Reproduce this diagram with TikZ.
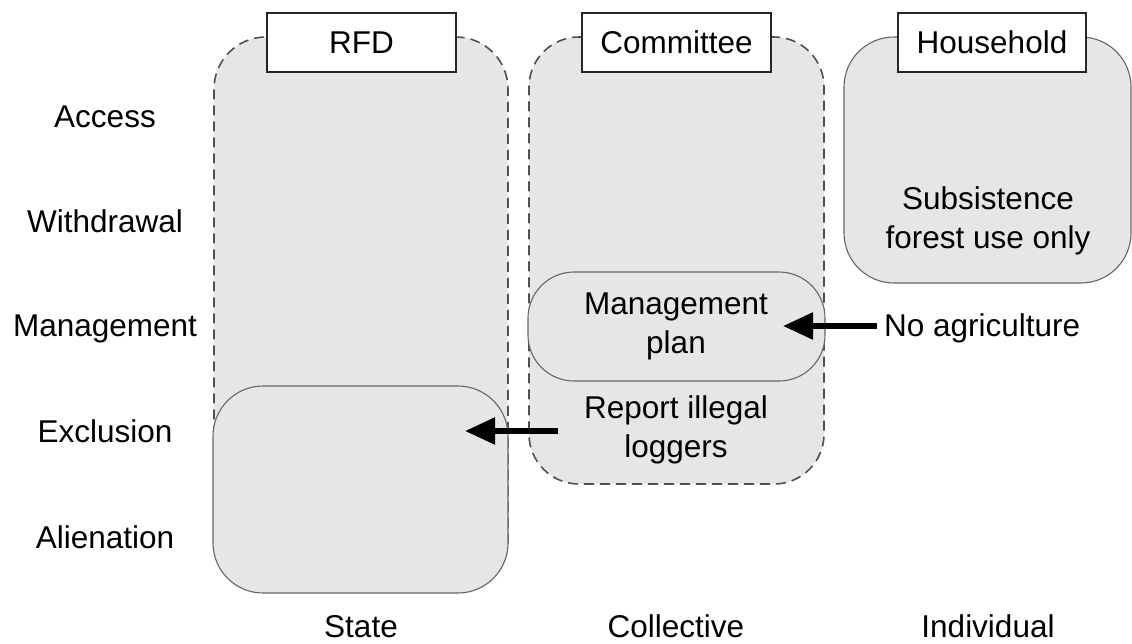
\documentclass[tikz,border=0pt]{standalone}
\usepackage{fontspec}
\setmainfont{Liberation Sans}
\usetikzlibrary{arrows.meta}
\definecolor{panelfill}{HTML}{E6E6E6}
\definecolor{dashgray}{HTML}{505050}
\definecolor{edgegray}{HTML}{666666}
\tikzset{
  txt/.style={inner sep=0pt, anchor=base, font=\fontsize{31.5}{38}\selectfont},
  actorzone/.style={draw=dashgray, line width=1.6pt, dash pattern=on 10pt off 6pt,
    fill=panelfill, rounded corners=52pt, inner sep=0pt},
  rightsbox/.style={draw=edgegray, line width=1.1pt, fill=panelfill, inner sep=0pt},
  header/.style={draw=black!85, line width=1.3pt, fill=white, inner sep=0pt,
    minimum width=189pt, minimum height=59pt, font=\fontsize{31.5}{38}\selectfont},
  flow/.style={line width=5.5pt, -{Triangle[length=30pt,width=26pt]}}
}
\begin{document}
\begin{tikzpicture}[x=1pt,y=-1pt]
\useasboundingbox (0,0) rectangle (1132,643);

% actor zones
\node[actorzone, minimum width=294pt, minimum height=555pt] (rfd) at (361,314.5) {};
\node[actorzone, minimum width=295pt, minimum height=447pt, rounded corners=50pt] (com) at (676.5,260.5) {};
\node[rightsbox, minimum width=287pt, minimum height=246pt, rounded corners=50pt] (hh) at (987.5,160) {};

% rights held inside the zones
\node[rightsbox, minimum width=297pt, minimum height=109pt, rounded corners=46pt] (plan) at (676.5,326.5) {};
\node[rightsbox, minimum width=295pt, minimum height=207pt, rounded corners=50pt] (excl) at (360.5,489.5) {};

% actor headers
\node[header] (hrfd) at (361.5,42.5) {RFD};
\node[header] (hcom) at (676.5,42.5) {Committee};
\node[header, minimum width=188pt] (hhh) at (992,42.5) {Household};

% bundle of rights, one per row
\node[txt] (access) at (105,127) {Access};
\node[txt] (withdraw) at (105,232) {Withdrawal};
\node[txt] (manage) at (105,336) {Management};
\node[txt] (exclusion) at (105,442) {Exclusion};
\node[txt] (alien) at (105,548) {Alienation};

% property regimes
\node[txt] (state) at (361,637) {State};
\node[txt] (collective) at (676,637) {Collective};
\node[txt] (individual) at (988,637) {Individual};

% texts inside the boxes
\node[txt] (subs1) at (988,209) {Subsistence};
\node[txt] (subs2) at (988,248) {forest use only};
\node[txt] (plan1) at (676,314) {Management};
\node[txt] (plan2) at (676,353) {plan};
\node[txt] (rep1) at (676,418) {Report illegal};
\node[txt] (rep2) at (676,457) {loggers};
\node[txt, anchor=base west] (noagri) at (884,336) {No agriculture};

% influence arrows
\coordinate (agritail) at (877,326);
\coordinate (plantip) at (783,326);
\coordinate (reptail) at (558,431);
\coordinate (excltip) at (465,431);
\draw[flow] (agritail) -- (plantip);
\draw[flow] (reptail) -- (excltip);
\end{tikzpicture}
\end{document}
